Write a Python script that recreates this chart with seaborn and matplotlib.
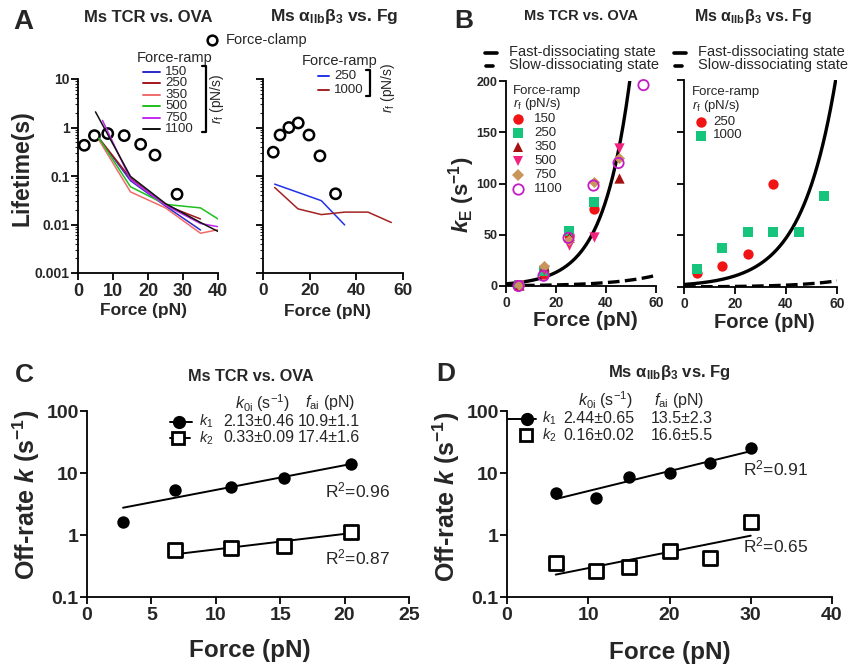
import numpy as np
import pandas as pd
import matplotlib
matplotlib.use("Agg")
import matplotlib.pyplot as plt
import seaborn as sns
from matplotlib.lines import Line2D
from matplotlib.ticker import LogLocator, NullFormatter, FixedLocator, FixedFormatter

# ---------------- data ----------------
# Panel A (left): Ms TCR vs. OVA lifetimes
a1_clamp_f = [1.8, 4.7, 8.5, 13.2, 17.9, 22.0, 28.3]
a1_clamp_t = [0.43, 0.68, 0.75, 0.68, 0.45, 0.27, 0.042]
a1_rates = ["150", "250", "350", "500", "750", "1100"]
a1_colors = ["#2b2bc8", "#a3161b", "#f06a6a", "#1fbf1f", "#c428f0", "#111111"]
a1_f_150 = [6, 15, 25, 35];        a1_t_150 = [0.6, 0.08, 0.024, 0.0077]
a1_f_250 = [6, 15, 25, 35];        a1_t_250 = [0.6, 0.09, 0.025, 0.013]
a1_f_350 = [6, 15, 25, 35, 40];    a1_t_350 = [0.55, 0.047, 0.022, 0.0066, 0.0078]
a1_f_500 = [6, 15, 25, 35, 40];    a1_t_500 = [0.6, 0.06, 0.026, 0.022, 0.013]
a1_f_750 = [7, 15, 25, 35, 40];    a1_t_750 = [1.4, 0.085, 0.025, 0.0105, 0.009]
a1_f_1100 = [5, 15, 25, 35, 40];   a1_t_1100 = [2.1, 0.098, 0.027, 0.011, 0.0072]

# Panel A (right): Ms aIIbb3 vs. Fg lifetimes
a2_clamp_f = [4.4, 7.3, 11.1, 15.1, 19.7, 24.4, 31.1]
a2_clamp_t = [0.31, 0.70, 1.0, 1.24, 0.70, 0.26, 0.043]
a2_rates = ["250", "1000"]
a2_colors = ["#2233e6", "#a32222"]
a2_f_250 = [5, 25, 35];                  a2_t_250 = [0.068, 0.031, 0.0098]
a2_f_1000 = [5, 15, 25, 35, 45, 55];     a2_t_1000 = [0.058, 0.021, 0.016, 0.018, 0.018, 0.011]

# Panel B (left): kE for TCR
b1_rates = ["150", "250", "350", "500", "750", "1100"]
b1_colors = ["#f01414", "#17c47c", "#a51010", "#f2237e", "#c9955a", "#c41cc4"]
b1_markers = ["o", "s", "^", "v", "D", "o"]
b1_f_150 = [5, 15, 25, 35];           b1_k_150 = [0.5, 12, 50, 75]
b1_f_250 = [5, 15, 25, 35];           b1_k_250 = [1, 15, 54, 82]
b1_f_350 = [5, 15, 25, 45];           b1_k_350 = [1, 20, 48, 105]
b1_f_500 = [5, 15, 25, 35, 45];       b1_k_500 = [0.5, 16, 40, 48, 135]
b1_f_750 = [5, 15, 25, 35, 45];       b1_k_750 = [1, 20, 45, 101, 125]
b1_f_1100 = [5, 15, 25, 35, 45, 55];  b1_k_1100 = [0, 10, 47, 98, 120, 196]

# Panel B (right): kE for integrin
b2_rates = ["250", "1000"]
b2_colors = ["#f01414", "#17c47c"]
b2_markers = ["o", "s"]
b2_f_250 = [5, 15, 25, 35];             b2_k_250 = [13.5, 20, 32, 100]
b2_f_1000 = [5, 15, 25, 35, 45, 55];    b2_k_1000 = [17, 37.5, 53, 53, 53, 88]

# Fitted parameters (k0i, fai) shown in panels C/D
tcr_k0 = [2.13, 0.33];  tcr_fa = [10.9, 17.4]
itg_k0 = [2.44, 0.16];  itg_fa = [13.5, 16.6]
tcr_k0_txt = ["2.13\u00b10.46", "0.33\u00b10.09"]; tcr_fa_txt = ["10.9\u00b11.1", "17.4\u00b11.6"]
itg_k0_txt = ["2.44\u00b10.65", "0.16\u00b10.02"]; itg_fa_txt = ["13.5\u00b12.3", "16.6\u00b15.5"]
tcr_r2 = ["0.96", "0.87"]; itg_r2 = ["0.91", "0.65"]

# Panel C
c_f1 = [2.8, 6.8, 11.2, 15.3, 20.5];  c_k1 = [1.6, 5.3, 6.0, 8.4, 14.0]
c_f2 = [6.8, 11.2, 15.3, 20.5];       c_k2 = [0.58, 0.62, 0.66, 1.1]
# Panel D
d_f1 = [6, 11, 15, 20, 25, 30];  d_k1 = [4.8, 3.9, 8.5, 10, 14.5, 25]
d_f2 = [6, 11, 15, 20, 25, 30];  d_k2 = [0.35, 0.26, 0.30, 0.55, 0.43, 1.65]

# ---------------- style ----------------
sns.set_style("ticks")
plt.rcParams["font.family"] = ["Liberation Sans", "DejaVu Sans"]
plt.rcParams.update({
    "mathtext.fontset": "custom",
    "mathtext.rm": "Liberation Sans",
    "mathtext.it": "Liberation Sans:italic",
    "mathtext.bf": "Liberation Sans:bold",
    "mathtext.bfit": "Liberation Sans:bold:italic",
    "mathtext.sf": "Liberation Sans",
    "axes.linewidth": 1.3,
})

W, H = 848, 664
fig = plt.figure(figsize=(W / 100, H / 100), dpi=100)


def add_ax(l, t, r, b):
    return fig.add_axes([l / W, 1 - b / H, (r - l) / W, (b - t) / H])


def ftext(x, y, s, **kw):
    kw.setdefault("ha", "left")
    kw.setdefault("va", "center")
    fig.text(x / W, 1 - y / H, s, **kw)


def fline(xs, ys, **kw):
    fig.add_artist(Line2D([x / W for x in xs], [1 - y / H for y in ys],
                          transform=fig.transFigure, **kw))


def fmark(x, y, **kw):
    fig.add_artist(Line2D([x / W], [1 - y / H], transform=fig.transFigure, **kw))


def style_ax(ax, xfs, yfs):
    for s in ["top", "right"]:
        ax.spines[s].set_visible(False)
    for s in ["left", "bottom"]:
        ax.spines[s].set_linewidth(1.3)
        ax.spines[s].set_color("black")
    ax.tick_params(axis="both", which="major", direction="out", length=5, width=1.3, color="black")
    ax.tick_params(axis="x", labelsize=xfs, pad=2)
    ax.tick_params(axis="y", labelsize=yfs, pad=1)
    for lab in ax.get_xticklabels() + ax.get_yticklabels():
        lab.set_fontweight("bold")
    ax.set_xlabel("")
    ax.set_ylabel("")
    ax.grid(False)


def open_last(ax, color, lw):
    coll = ax.collections[-1]
    coll.set_facecolor("none")
    coll.set_edgecolor(color)
    coll.set_linewidth(lw)


# ---------------- Panel A ----------------
def ramp_df(rates, fs, ts):
    rows = []
    for r, f, t in zip(rates, fs, ts):
        for fi, ti in zip(f, t):
            rows.append({"rate": r, "force": fi, "life": ti})
    return pd.DataFrame(rows)


A1 = add_ax(78, 79, 218, 273)
df_a1 = ramp_df(a1_rates,
                [a1_f_150, a1_f_250, a1_f_350, a1_f_500, a1_f_750, a1_f_1100],
                [a1_t_150, a1_t_250, a1_t_350, a1_t_500, a1_t_750, a1_t_1100])
sns.lineplot(data=df_a1, x="force", y="life", hue="rate", hue_order=a1_rates,
             palette=a1_colors, estimator=None, lw=1.1, legend=False, ax=A1)
sns.scatterplot(x=a1_clamp_f, y=a1_clamp_t, marker="o", s=55, ax=A1, clip_on=False)
open_last(A1, "black", 1.8)
A1.set_yscale("log")
A1.set_xlim(0, 40)
A1.set_ylim(0.001, 10)
A1.set_xticks([0, 10, 20, 30, 40])
A1.yaxis.set_major_locator(FixedLocator([0.001, 0.01, 0.1, 1, 10]))
A1.yaxis.set_major_formatter(FixedFormatter(["0.001", "0.01", "0.1", "1", "10"]))
A1.yaxis.set_minor_locator(LogLocator(base=10, subs=np.arange(2, 10)))
A1.yaxis.set_minor_formatter(NullFormatter())
A1.tick_params(axis="y", which="minor", length=2.5, width=0.8)
style_ax(A1, 13, 10)

A2 = add_ax(263, 79, 403, 273)
df_a2 = ramp_df(a2_rates, [a2_f_250, a2_f_1000], [a2_t_250, a2_t_1000])
sns.lineplot(data=df_a2, x="force", y="life", hue="rate", hue_order=a2_rates,
             palette=a2_colors, estimator=None, lw=1.1, legend=False, ax=A2)
sns.scatterplot(x=a2_clamp_f, y=a2_clamp_t, marker="o", s=55, ax=A2, clip_on=False)
open_last(A2, "black", 1.8)
A2.set_yscale("log")
A2.set_xlim(0, 60)
A2.set_ylim(0.001, 10)
A2.set_xticks([0, 20, 40, 60])
A2.yaxis.set_major_locator(FixedLocator([0.001, 0.01, 0.1, 1, 10]))
A2.yaxis.set_major_formatter(NullFormatter())
A2.yaxis.set_minor_locator(LogLocator(base=10, subs=np.arange(2, 10)))
A2.yaxis.set_minor_formatter(NullFormatter())
A2.tick_params(axis="y", which="minor", length=2.5, width=0.8)
style_ax(A2, 12.5, 10)

# Panel A texts
ftext(23, 22, "A", fontsize=20, fontweight="bold", ha="center")
ftext(148, 17, "Ms TCR vs. OVA", fontsize=12, fontweight="bold", ha="center")
ftext(334, 17, r"Ms $\mathbf{\alpha_{IIb}\beta_3}$ vs. Fg", fontsize=12.5, fontweight="bold", ha="center")
fmark(212, 40, marker="o", markersize=7, markerfacecolor="none", markeredgecolor="black", markeredgewidth=1.8)
ftext(226, 40, "Force-clamp", fontsize=10.5)
ftext(175, 58, "Force-ramp", fontsize=10.5, ha="center")
a1_rows = [71.7, 83.2, 94.8, 106.3, 117.9, 129.4]
for r, c, y in zip(a1_rates, a1_colors, a1_rows):
    fline([143, 160], [y, y], color=c, lw=1.4)
    ftext(165, y, r, fontsize=9.5)
fline([202, 206, 206, 202], [66, 66, 132, 132], color="black", lw=1.6)
ftext(217, 99, r"$r_\mathrm{f}$ (pN/s)", fontsize=10, rotation=90, ha="center")
ftext(340, 61, "Force-ramp", fontsize=10.5, ha="center")
for r, c, y in zip(a2_rates, a2_colors, [76, 90]):
    fline([318, 329], [y, y], color=c, lw=1.4)
    ftext(334, y, r, fontsize=9.5)
fline([366, 370, 370, 366], [70, 70, 96, 96], color="black", lw=1.6)
ftext(388, 88, r"$r_\mathrm{f}$ (pN/s)", fontsize=10, rotation=90, ha="center")
ftext(22, 168, "Lifetime(s)", fontsize=16.5, fontweight="bold", rotation=90, ha="center")
ftext(144, 310, "Force (pN)", fontsize=12.5, fontweight="bold", ha="center")
ftext(327, 311, "Force (pN)", fontsize=12.5, fontweight="bold", ha="center")

# ---------------- Panel B ----------------
fgrid = np.linspace(0, 60, 400)


def scatter_group(ax, fs, ks, rates, colors, markers):
    for f, k, r, c, m in zip(fs, ks, rates, colors, markers):
        sizes = {"o": 55, "s": 45, "^": 55, "v": 55, "D": 32}
        sns.scatterplot(x=f, y=k, marker=m, color=c, s=sizes[m], linewidth=0, ax=ax, clip_on=False, zorder=3)
        if r == "1100":
            open_last(ax, c, 1.3)


B1 = add_ax(506, 81, 656, 286)
sns.lineplot(x=fgrid, y=tcr_k0[0] * np.exp(fgrid / tcr_fa[0]), color="black", lw=2.4, ax=B1)
sns.lineplot(x=fgrid, y=tcr_k0[1] * np.exp(fgrid / tcr_fa[1]), color="black", lw=2.4, ax=B1,
             dashes=False, linestyle=(0, (3.5, 1.6)))
scatter_group(B1,
              [b1_f_150, b1_f_250, b1_f_350, b1_f_500, b1_f_750, b1_f_1100],
              [b1_k_150, b1_k_250, b1_k_350, b1_k_500, b1_k_750, b1_k_1100],
              b1_rates, b1_colors, b1_markers)
B1.set_xlim(0, 60)
B1.set_ylim(0, 200)
B1.set_xticks([0, 20, 40, 60])
B1.set_yticks([0, 50, 100, 150, 200])
style_ax(B1, 10, 9)

B2 = add_ax(684, 80, 837, 287)
sns.lineplot(x=fgrid, y=itg_k0[0] * np.exp(fgrid / itg_fa[0]), color="black", lw=2.4, ax=B2)
sns.lineplot(x=fgrid, y=itg_k0[1] * np.exp(fgrid / itg_fa[1]), color="black", lw=2.4, ax=B2,
             dashes=False, linestyle=(0, (3.5, 1.6)))
scatter_group(B2, [b2_f_250, b2_f_1000], [b2_k_250, b2_k_1000], b2_rates, b2_colors, b2_markers)
B2.set_xlim(0, 60)
B2.set_ylim(0, 200)
B2.set_xticks([0, 20, 40, 60])
B2.set_yticks([0, 50, 100, 150, 200])
B2.set_yticklabels([])
style_ax(B2, 10, 9)

ftext(464, 21, "B", fontsize=19, fontweight="bold", ha="center")
ftext(581, 16, "Ms TCR vs. OVA", fontsize=10.5, fontweight="bold", ha="center")
ftext(753, 16, r"Ms $\mathbf{\alpha_{IIb}\beta_3}$ vs. Fg", fontsize=11.5, fontweight="bold", ha="center")
for x0 in [485, 674]:
    fline([x0, x0 + 12], [53, 53], color="black", lw=2.6)
    fline([x0 + 1, x0 + 8], [65.5, 65.5], color="black", lw=2.6)
    ftext(x0 + 24, 52, "Fast-dissociating state", fontsize=10.5)
    ftext(x0 + 24, 65.5, "Slow-dissociating state", fontsize=10.5)
ftext(513, 91, "Force-ramp", fontsize=9.5)
ftext(513, 104, r"$r_\mathrm{f}$ (pN/s)", fontsize=9.5)
b1_rows = [118.5, 132.5, 146.5, 160.5, 174.5, 188.5]
for r, c, m, y in zip(b1_rates, b1_colors, b1_markers, b1_rows):
    ms = {"o": 7.5, "s": 6.8, "^": 7.5, "v": 7.5, "D": 5.8}[m]
    if r == "1100":
        fmark(518, y, marker=m, markersize=ms, markerfacecolor="none", markeredgecolor=c, markeredgewidth=1.3)
    else:
        fmark(518, y, marker=m, markersize=ms, markerfacecolor=c, markeredgecolor=c, markeredgewidth=0)
    ftext(534, y, r, fontsize=9.5)
ftext(692, 92, "Force-ramp", fontsize=9.5)
ftext(692, 106, r"$r_\mathrm{f}$ (pN/s)", fontsize=9.5)
for r, c, m, y in zip(b2_rates, b2_colors, b2_markers, [122, 135.5]):
    ms = {"o": 7.5, "s": 6.8}[m]
    fmark(701, y, marker=m, markersize=ms, markerfacecolor=c, markeredgecolor=c, markeredgewidth=0)
    ftext(713, y, r, fontsize=9.5)
ftext(462, 195, r"$\mathbfit{k}_\mathbf{E}$ $\mathbf{(s^{-1})}$", fontsize=16, rotation=90, ha="center")
ftext(585, 321, "Force (pN)", fontsize=15, fontweight="bold", ha="center")
ftext(764, 322, "Force (pN)", fontsize=14.5, fontweight="bold", ha="center")


# ---------------- Panels C & D ----------------
def offrate_panel(ax, f1, k1, f2, k2, k0, fa, xmax, xticks):
    g1 = np.linspace(min(f1), max(f1), 50)
    g2 = np.linspace(min(f2), max(f2), 50)
    sns.lineplot(x=g1, y=k0[0] * np.exp(g1 / fa[0]), color="black", lw=1.4, ax=ax)
    sns.lineplot(x=g2, y=k0[1] * np.exp(g2 / fa[1]), color="black", lw=1.4, ax=ax)
    sns.scatterplot(x=f1, y=k1, marker="o", color="black", s=80, linewidth=0, ax=ax, zorder=3)
    sns.scatterplot(x=f2, y=k2, marker="s", s=95, ax=ax, zorder=3)
    open_last(ax, "black", 2.0)
    ax.collections[-1].set_facecolor("white")
    ax.set_yscale("log")
    ax.set_ylim(0.1, 100)
    ax.set_xlim(0, xmax)
    ax.set_xticks(xticks)
    ax.yaxis.set_major_locator(FixedLocator([0.1, 1, 10, 100]))
    ax.yaxis.set_major_formatter(FixedFormatter(["0.1", "1", "10", "100"]))
    ax.yaxis.set_minor_locator(FixedLocator([]))
    style_ax(ax, 14, 14)


C = add_ax(87, 411, 409, 597)
offrate_panel(C, c_f1, c_k1, c_f2, c_k2, tcr_k0, tcr_fa, 25, [0, 5, 10, 15, 20, 25])
D = add_ax(507, 411, 832, 597)
offrate_panel(D, d_f1, d_k1, d_f2, d_k2, itg_k0, itg_fa, 40, [0, 10, 20, 30, 40])

ftext(24, 375, "C", fontsize=19, fontweight="bold", ha="center")
ftext(446, 374, "D", fontsize=19, fontweight="bold", ha="center")
ftext(251, 376, "Ms TCR vs. OVA", fontsize=11.7, fontweight="bold", ha="center")
ftext(669, 373, r"Ms $\mathbf{\alpha_{IIb}\beta_3}$ vs. Fg", fontsize=12, fontweight="bold", ha="center")

# C legend table
ftext(262, 403, r"$k_{0\mathrm{i}}$ (s$^{-1}$)", fontsize=11.5, ha="center")
ftext(330, 403, r"$f_\mathrm{ai}$ (pN)", fontsize=11.5, ha="center")
for i, y in enumerate([421.5, 438]):
    if i == 0:
        fline([170, 192], [y, y], color="black", lw=1.4)
        fmark(179, y, marker="o", markersize=8.5, markerfacecolor="black", markeredgecolor="black")
    else:
        fline([170, 190], [y, y], color="black", lw=1.4)
        fmark(178, y, marker="s", markersize=8.5, markerfacecolor="white", markeredgecolor="black",
              markeredgewidth=2.0)
    ftext(199, y, r"$k_%d$" % (i + 1), fontsize=10.5)
    ftext(223, y, tcr_k0_txt[i], fontsize=11.5)
    ftext(298, y, tcr_fa_txt[i], fontsize=11.5)
ftext(325, 490, r"R$^2$=" + tcr_r2[0], fontsize=12.5)
ftext(325, 557, r"R$^2$=" + tcr_r2[1], fontsize=12.5)

# D legend table
ftext(605, 400, r"$k_{0\mathrm{i}}$ (s$^{-1}$)", fontsize=11.5, ha="center")
ftext(679, 400, r"$f_\mathrm{ai}$ (pN)", fontsize=11.5, ha="center")
for i, y in enumerate([418.5, 435]):
    if i == 0:
        fline([508, 536], [y, y], color="black", lw=1.4)
        fmark(527, y, marker="o", markersize=8.5, markerfacecolor="black", markeredgecolor="black")
    else:
        fmark(526, y, marker="s", markersize=8.5, markerfacecolor="white", markeredgecolor="black",
              markeredgewidth=2.0)
    ftext(542, y, r"$k_%d$" % (i + 1), fontsize=10.5)
    ftext(563, y, itg_k0_txt[i], fontsize=11.5)
    ftext(651, y, itg_fa_txt[i], fontsize=11.5)
ftext(743, 468, r"R$^2$=" + itg_r2[0], fontsize=12.5)
ftext(743, 545, r"R$^2$=" + itg_r2[1], fontsize=12.5)

ftext(26, 495, r"Off-rate $\mathbfit{k}$ $\mathbf{(s^{-1})}$", fontsize=18, fontweight="bold", rotation=90, ha="center")
ftext(446, 497, r"Off-rate $\mathbfit{k}$ $\mathbf{(s^{-1})}$", fontsize=18, fontweight="bold", rotation=90, ha="center")
ftext(250, 650, "Force (pN)", fontsize=17.5, fontweight="bold", ha="center")
ftext(670, 652, "Force (pN)", fontsize=17.5, fontweight="bold", ha="center")

fig.savefig("out.png", dpi=100)
